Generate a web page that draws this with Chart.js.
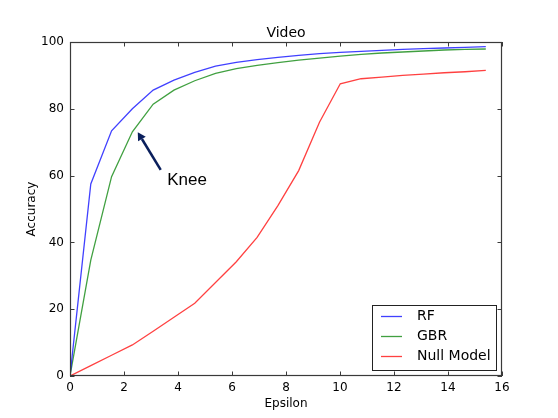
<!DOCTYPE html>
<html>
<head>
<meta charset="utf-8">
<script src="https://cdn.jsdelivr.net/npm/chart.js@4"></script>
<style>
html,body{margin:0;padding:0;background:#fff;}
#wrap{width:558px;height:418px;}
</style>
</head>
<body>
<div id="wrap"><canvas id="c" width="558" height="418"></canvas></div>
<script>
// ---- data ----
const epsilon = [0, 0.77, 1.54, 2.31, 3.08, 3.85, 4.62, 5.39, 6.16, 6.93, 7.7, 8.47, 9.24, 10.01, 10.78, 11.55, 12.32, 13.09, 13.86, 14.63, 15.4];
const rfAcc   = [0, 57.5, 73.4, 80.0, 85.6, 88.6, 90.9, 92.8, 93.9, 94.7, 95.4, 96.0, 96.5, 96.9, 97.2, 97.5, 97.8, 98.0, 98.2, 98.4, 98.6];
const gbrAcc  = [0, 34.7, 59.7, 73.1, 81.4, 85.6, 88.4, 90.6, 92.0, 93.0, 93.8, 94.6, 95.2, 95.8, 96.3, 96.7, 97.0, 97.3, 97.6, 97.8, 97.9];
const nullAcc = [0, 3.1, 6.2, 9.3, 13.4, 17.6, 21.8, 28.0, 34.2, 41.5, 51.0, 61.5, 76.0, 87.5, 89.0, 89.5, 90.0, 90.4, 90.8, 91.1, 91.5];
const seriesNames = ['RF', 'GBR', 'Null Model'];
const xTicks = [0, 2, 4, 6, 8, 10, 12, 14, 16];
const yTicks = [0, 20, 40, 60, 80, 100];
const titleText = 'Video';
const xTitle = 'Epsilon';
const yTitle = 'Accuracy';
const annoText = 'Knee';
const arrowHead = {x: 2.51, y: 73.0};
const arrowTail = {x: 3.36, y: 61.7};
const annoPos = {x: 3.6, y: 57.2};

const toPts = ys => epsilon.map((x, i) => ({x: x, y: ys[i]}));
const colors = ['rgba(0,0,255,0.75)', 'rgba(0,128,0,0.75)', 'rgba(255,0,0,0.75)'];
const series = [rfAcc, gbrAcc, nullAcc];

const FONT = "'DejaVu Sans', sans-serif";

const decor = {
  id: 'decor',
  afterDraw(chart) {
    const ctx = chart.ctx;
    const a = chart.chartArea;
    const xs = chart.scales.x, ys = chart.scales.y;
    ctx.save();
    // frame
    ctx.strokeStyle = '#3a3a3a';
    ctx.lineWidth = 1.2;
    ctx.strokeRect(Math.round(a.left) + 0.5, Math.round(a.top) + 0.5, Math.round(a.right - a.left) - 1, Math.round(a.bottom - a.top) - 1);
    // inward ticks on all sides
    const tl = 4.5;
    ctx.lineWidth = 1;
    ctx.beginPath();
    xTicks.forEach(v => {
      const px = Math.round(xs.getPixelForValue(v)) + 0.5;
      ctx.moveTo(px, a.bottom); ctx.lineTo(px, a.bottom - tl);
      ctx.moveTo(px, a.top); ctx.lineTo(px, a.top + tl);
    });
    yTicks.forEach(v => {
      const py = Math.round(ys.getPixelForValue(v)) + 0.5;
      ctx.moveTo(a.left, py); ctx.lineTo(a.left + tl, py);
      ctx.moveTo(a.right, py); ctx.lineTo(a.right - tl, py);
    });
    ctx.stroke();
    // title
    ctx.fillStyle = '#000';
    ctx.font = '14px ' + FONT;
    ctx.textAlign = 'center';
    ctx.textBaseline = 'alphabetic';
    ctx.fillText(titleText, (a.left + a.right) / 2, a.top - 5);
    // annotation arrow
    const hx = xs.getPixelForValue(arrowHead.x), hy = ys.getPixelForValue(arrowHead.y);
    const tx = xs.getPixelForValue(arrowTail.x), ty = ys.getPixelForValue(arrowTail.y);
    const ang = Math.atan2(hy - ty, hx - tx);
    const headLen = 8, headW = 4.5;
    const bx = hx - headLen * Math.cos(ang), by = hy - headLen * Math.sin(ang);
    ctx.strokeStyle = '#0a1f5c';
    ctx.fillStyle = '#0a1f5c';
    ctx.lineWidth = 2.5;
    ctx.beginPath();
    ctx.moveTo(tx, ty); ctx.lineTo(bx, by);
    ctx.stroke();
    ctx.beginPath();
    ctx.moveTo(hx, hy);
    ctx.lineTo(bx + headW * Math.sin(ang), by - headW * Math.cos(ang));
    ctx.lineTo(bx - headW * Math.sin(ang), by + headW * Math.cos(ang));
    ctx.closePath();
    ctx.fill();
    // annotation text
    ctx.fillStyle = '#000';
    ctx.font = "17px 'Liberation Sans', Arial, sans-serif";
    ctx.textAlign = 'left';
    ctx.textBaseline = 'alphabetic';
    ctx.fillText(annoText, xs.getPixelForValue(annoPos.x), ys.getPixelForValue(annoPos.y));
    // legend
    const lx = 372, ly = 305, lw = 124, lh = 65;
    ctx.fillStyle = '#fff';
    ctx.fillRect(lx, ly, lw, lh);
    ctx.strokeStyle = '#222';
    ctx.lineWidth = 1;
    ctx.strokeRect(lx + 0.5, ly + 0.5, lw, lh);
    ctx.font = '14px ' + FONT;
    ctx.textBaseline = 'middle';
    seriesNames.forEach((n, i) => {
      const yy = ly + 11.5 + i * 20;
      ctx.strokeStyle = colors[i];
      ctx.lineWidth = 1.3;
      ctx.beginPath();
      ctx.moveTo(lx + 9, yy); ctx.lineTo(lx + 30, yy);
      ctx.stroke();
      ctx.fillStyle = '#000';
      ctx.fillText(n, lx + 45, yy);
    });
    ctx.restore();
  }
};

new Chart(document.getElementById('c'), {
  type: 'line',
  data: {
    datasets: series.map((s, i) => ({
      label: seriesNames[i],
      data: toPts(s),
      borderColor: colors[i],
      backgroundColor: colors[i],
      borderWidth: 1.3,
      pointRadius: 0,
      tension: 0,
      fill: false
    }))
  },
  options: {
    responsive: false,
    animation: false,
    devicePixelRatio: 1,
    layout: {padding: {top: 42, right: 56, left: 0, bottom: 0}},
    plugins: {legend: {display: false}, title: {display: false}, tooltip: {enabled: false}},
    scales: {
      x: {
        type: 'linear', min: 0, max: 16,
        afterFit: s => { s.height = 42; },
        afterBuildTicks: s => { s.ticks = xTicks.map(v => ({value: v})); },
        grid: {display: false, drawTicks: false},
        border: {display: false},
        ticks: {color: '#000', font: {family: FONT, size: 12}, padding: 5, maxRotation: 0},
        title: {display: true, text: xTitle, color: '#000', font: {family: FONT, size: 12}, padding: {top: 0, bottom: 7}}
      },
      y: {
        type: 'linear', min: 0, max: 100,
        afterFit: s => { s.width = 70; },
        afterBuildTicks: s => { s.ticks = yTicks.map(v => ({value: v})); },
        grid: {display: false, drawTicks: false},
        border: {display: false},
        ticks: {color: '#000', font: {family: FONT, size: 12}, padding: 6},
        title: {display: true, text: yTitle, color: '#000', font: {family: FONT, size: 12}, padding: {top: 25, bottom: 0}}
      }
    }
  },
  plugins: [decor]
});
</script>
</body>
</html>
